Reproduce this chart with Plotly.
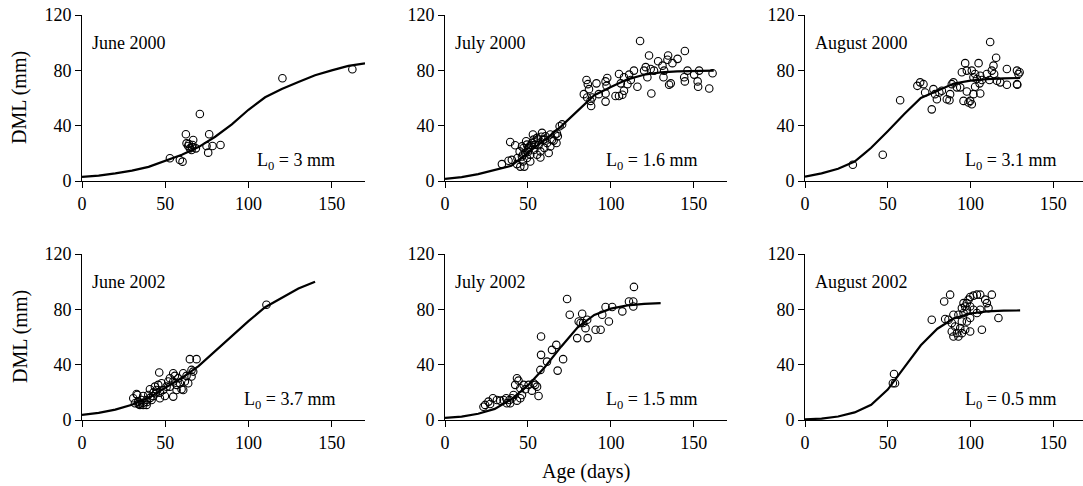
import plotly.graph_objects as go

# ---------------- data ----------------
panel_titles = ["June 2000", "July 2000", "August 2000", "June 2002", "July 2002", "August 2002"]
l0_labels = ["3 mm", "1.6 mm", "3.1 mm", "3.7 mm", "1.5 mm", "0.5 mm"]

# June 2000
obs1_x = [52.8, 58.8, 60.4, 62.4, 62.8, 63.8, 64.2, 64.8, 65.8, 66.0, 66.4, 66.8, 68.4, 70.8, 74.8, 75.8, 76.4, 78.4, 83.2, 120.4, 162.4]
obs1_y = [16.4, 15.2, 14.0, 33.8, 27.2, 25.3, 26.8, 23.6, 22.4, 24.5, 26.0, 29.6, 23.6, 48.4, 25.3, 20.5, 33.8, 25.3, 26.0, 74.3, 80.8]
fit1_x = [0, 10, 20, 30, 40, 50, 60, 70, 80, 90, 100, 110, 120, 130, 140, 150, 160, 170]
fit1_y = [3.0, 3.9, 5.5, 7.5, 10.2, 14.5, 19.0, 24.5, 32.0, 41.0, 51.5, 60.5, 66.5, 71.5, 76.5, 80.0, 83.2, 85.0]

# July 2000
obs2_x = [117.6, 144.6, 123.0, 134.5, 140.2, 137.1, 134.1, 128.5, 131.1, 121.0, 124.0, 126.0, 132.1, 146.2, 153.2,
          161.3, 150.2, 144.2, 144.6, 152.3, 136.1, 135.1, 152.6, 159.3, 131.7, 122.0, 120.0, 116.0, 124.4, 113.9,
          111.0, 104.9, 107.9, 110.0, 112.0, 106.0, 107.9, 102.8, 104.9, 106.9, 97.8, 96.8, 97.4, 96.8, 96.8,
          91.3, 85.3, 86.1, 86.8, 83.7, 85.7, 88.7, 88.1, 92.7, 87.7,
          39.3, 42.3, 34.3, 38.3, 40.3, 43.4, 45.4, 47.8, 46.4, 45.0, 47.4, 49.4, 48.4, 50.4, 51.4,
          52.4, 53.4, 53.0, 55.5, 56.4, 57.5, 57.5, 55.5, 58.5, 59.1, 60.5, 61.5, 62.5, 63.5, 64.5,
          66.5, 67.2, 68.0, 69.1, 70.6, 51.0, 53.8, 49.4, 51.4, 43.7, 47.0, 59.9, 63.5, 65.5, 54.5,
          48.9, 46.4, 67.5, 50.0, 52.0, 54.0, 56.0, 50.0, 47.0, 58.0, 60.0]
obs2_y = [101.2, 94.0, 90.7, 90.7, 88.3, 85.2, 87.6, 86.6, 83.4, 82.3, 81.0, 79.8, 79.8, 79.8, 79.8,
          77.9, 76.9, 75.0, 72.0, 72.0, 70.6, 69.6, 68.1, 66.9, 75.0, 75.0, 79.8, 68.1, 63.3, 79.8,
          76.9, 77.4, 75.0, 70.0, 73.0, 70.6, 65.2, 61.5, 61.5, 62.3, 74.5, 72.0, 68.8, 63.3, 57.4,
          70.6, 73.0, 70.0, 66.4, 62.8, 60.4, 60.4, 54.2, 62.8, 57.9,
          28.2, 25.8, 12.2, 14.6, 15.3, 12.2, 10.4, 10.4, 17.7, 21.4, 23.9, 26.3, 20.2, 22.6, 19.0,
          27.5, 29.9, 33.6, 31.2, 25.8, 21.4, 17.0, 19.0, 34.8, 29.9, 32.3, 27.5, 20.2, 33.6, 29.9,
          33.6, 27.5, 32.3, 39.6, 40.9, 25.0, 22.6, 16.6, 14.1, 16.6, 14.1, 23.9, 25.0, 29.2, 26.3,
          28.7, 25.0, 34.3, 24.0, 26.0, 28.0, 30.0, 21.0, 19.0, 32.0, 30.0]
fit2_x = [0, 10, 20, 30, 40, 50, 60, 70, 80, 90, 100, 110, 120, 130, 140, 150, 162]
fit2_y = [1.6, 2.8, 5.0, 8.0, 11.0, 20.5, 29.5, 39.5, 51.0, 62.0, 68.0, 73.5, 76.8, 78.5, 79.3, 79.6, 79.8]

# August 2000
obs3_x = [28.9, 47.0, 57.5, 67.9, 69.6, 71.6, 72.6, 76.6, 77.6, 78.6, 79.7, 81.2, 82.7, 85.7, 87.3,
          87.7, 88.7, 89.7, 91.8, 93.8, 94.8, 96.8, 97.8, 97.8, 95.8, 98.8, 100.8, 99.8, 101.8, 102.8,
          101.8, 100.8, 102.8, 103.9, 104.9, 105.9, 105.5, 105.9, 106.9, 111.9, 113.9, 112.9, 114.3, 115.5, 116.0,
          118.0, 122.0, 122.0, 128.1, 129.0, 128.1, 128.3, 129.7, 111.5, 109.9]
obs3_y = [11.7, 19.0, 58.4, 68.8, 71.3, 70.0, 64.0, 51.8, 66.4, 62.8, 59.1, 64.0, 65.2, 59.1, 58.4,
          62.8, 70.0, 71.3, 67.7, 67.7, 78.6, 85.2, 79.8, 64.7, 57.9, 56.7, 55.5, 57.9, 62.8, 68.1,
          75.0, 79.8, 77.4, 73.7, 85.2, 76.1, 70.6, 63.3, 73.0, 100.5, 83.4, 79.8, 77.4, 89.1, 72.5,
          71.3, 81.0, 69.6, 79.8, 77.4, 70.0, 69.6, 78.6, 73.0, 77.4]
fit3_x = [0, 10, 20, 30, 36, 40, 50, 60, 70, 80, 90, 100, 110, 120, 130]
fit3_y = [3.1, 5.5, 8.8, 14.0, 20.0, 24.0, 36.0, 48.5, 60.0, 65.5, 70.5, 72.5, 73.7, 74.2, 74.5]

# June 2002
obs4_x = [110.8, 64.8, 68.8, 46.4, 54.8, 55.8, 52.8, 60.8, 62.8, 65.8, 66.8, 63.8, 58.8, 59.8, 56.8,
          54.8, 50.8, 48.8, 46.8, 49.8, 44.8, 42.8, 40.8, 41.8, 38.8, 36.8, 33.2, 30.8, 31.8, 34.8,
          36.8, 38.8, 33.8, 35.8, 39.8, 47.8, 52.8, 57.8, 51.8, 60.8, 61.8, 56.8, 45.8, 43.8, 65.8,
          54.8, 46.8, 44.4, 32.8, 35.0, 37.0, 34.0, 39.0, 41.0, 43.0]
obs4_y = [83.3, 44.0, 44.0, 34.3, 33.8, 31.9, 30.2, 33.8, 31.9, 31.4, 35.0, 26.6, 26.6, 22.2, 21.7,
          16.9, 24.1, 21.7, 19.8, 17.4, 21.7, 17.4, 22.2, 14.5, 14.5, 17.4, 18.1, 15.7, 12.1, 10.9,
          10.9, 10.9, 13.3, 14.5, 18.1, 26.6, 24.1, 30.2, 27.8, 21.7, 27.8, 25.4, 25.4, 24.1, 36.2,
          27.8, 15.7, 19.3, 18.8, 12.0, 12.5, 11.5, 13.0, 16.0, 20.0]
fit4_x = [0, 10, 20, 30, 40, 50, 60, 70, 80, 90, 100, 110, 120, 130, 140]
fit4_y = [3.7, 5.2, 7.5, 11.0, 16.0, 23.0, 30.5, 39.0, 50.0, 61.0, 71.5, 81.5, 88.5, 95.0, 100.0]

# July 2002
obs5_x = [73.6, 113.9, 110.9, 113.5, 113.5, 106.9, 100.8, 96.8, 94.8, 98.8, 93.8, 90.8, 86.0, 79.7, 75.2,
          82.7, 80.6, 83.3, 85.7, 84.7, 81.7, 57.9, 57.9, 64.5, 67.1, 61.5, 71.2, 67.9, 57.5, 43.4,
          44.3, 42.3, 45.4, 47.4, 50.4, 53.4, 54.4, 52.4, 56.4, 55.5, 46.4, 45.4, 41.3, 40.3, 43.4,
          38.9, 36.9, 35.3, 33.3, 31.3, 28.9, 26.2, 24.2, 23.2, 27.2, 37.3, 39.3, 48.4]
obs5_y = [87.5, 96.2, 85.7, 85.7, 82.1, 78.5, 81.7, 81.7, 76.1, 71.2, 65.2, 65.2, 59.2, 59.2, 76.1,
          76.8, 71.2, 70.1, 72.5, 66.4, 70.1, 60.4, 47.1, 50.7, 54.3, 42.2, 44.0, 35.7, 36.2, 30.2,
          28.5, 25.4, 23.0, 25.4, 25.4, 26.6, 25.4, 21.2, 17.4, 24.1, 18.1, 15.7, 18.1, 15.7, 14.0,
          14.5, 15.7, 14.5, 14.0, 14.5, 15.7, 13.3, 10.9, 9.6, 11.6, 12.1, 12.1, 22.2]
fit5_x = [0, 10, 20, 30, 40, 50, 60, 70, 80, 90, 100, 110, 120, 130]
fit5_y = [1.5, 2.5, 4.5, 8.0, 15.0, 25.0, 38.0, 53.0, 67.0, 76.0, 80.5, 82.8, 84.0, 84.5]

# August 2002
obs6_x = [53.1, 54.4, 53.8, 76.6, 84.1, 87.7, 84.7, 86.7, 89.7, 88.7, 90.7, 88.7, 91.8, 89.7, 92.7,
          94.8, 93.8, 96.8, 99.8, 94.8, 97.8, 99.8, 92.7, 95.8, 97.8, 96.8, 97.8, 98.8, 99.8, 101.8,
          103.9, 99.8, 101.8, 103.9, 105.9, 108.9, 109.9, 112.9, 110.9, 116.9, 106.9, 105.9, 95.8, 94.8]
obs6_y = [26.6, 26.6, 33.3, 72.5, 85.7, 90.6, 73.0, 72.5, 76.1, 70.1, 67.6, 64.0, 62.8, 60.4, 60.4,
          62.8, 66.4, 65.2, 64.0, 71.2, 71.2, 73.7, 76.1, 77.3, 79.7, 82.1, 84.5, 87.0, 88.9, 89.9,
          90.6, 82.1, 79.7, 77.3, 79.7, 87.0, 84.5, 90.6, 80.9, 73.7, 65.2, 90.6, 84.5, 80.9]
fit6_x = [0, 10, 20, 30, 40, 50, 60, 70, 80, 90, 100, 110, 120, 130]
fit6_y = [0.5, 1.0, 2.5, 5.5, 11.0, 22.0, 38.0, 54.0, 66.0, 73.5, 77.0, 78.5, 79.0, 79.2]

x_ticks = [0, 50, 100, 150]
y_ticks = [0, 40, 80, 120]
y_title = "DML (mm)"
x_title = "Age (days)"

# ---------------- layout ----------------
W, H = 1083, 486
FONT = "Liberation Serif"
obs_x = [obs1_x, obs2_x, obs3_x, obs4_x, obs5_x, obs6_x]
obs_y = [obs1_y, obs2_y, obs3_y, obs4_y, obs5_y, obs6_y]
fit_x = [fit1_x, fit2_x, fit3_x, fit4_x, fit5_x, fit6_x]
fit_y = [fit1_y, fit2_y, fit3_y, fit4_y, fit5_y, fit6_y]

col_px = [(82, 365, 170), (445, 727, 170), (805, 1083, 168)]
row_px = [(15, 181), (254, 420)]

fig = go.Figure()
layout = dict(width=W, height=H, margin=dict(l=0, r=0, t=0, b=0, autoexpand=False),
              paper_bgcolor="white", plot_bgcolor="white", showlegend=False,
              font=dict(family=FONT, color="black"))
annotations = []
for i in range(6):
    r, c = divmod(i, 3)
    n = i + 1
    xa = "x" if n == 1 else f"x{n}"
    ya = "y" if n == 1 else f"y{n}"
    x0, x1, xr = col_px[c]
    t0, t1 = row_px[r]
    axcommon = dict(showline=True, linecolor="black", linewidth=1, ticks="outside",
                    ticklen=6, tickwidth=1, tickcolor="black", showgrid=False, zeroline=False,
                    automargin=False,
                    tickfont=dict(family=FONT, size=18, color="black"))
    layout["xaxis" if n == 1 else f"xaxis{n}"] = dict(
        domain=[x0 / W, x1 / W], range=[0, xr], anchor=ya, tickvals=x_ticks, **axcommon)
    layout["yaxis" if n == 1 else f"yaxis{n}"] = dict(
        domain=[(H - t1) / H, (H - t0) / H], range=[0, 120], anchor=xa, tickvals=y_ticks, **axcommon)

    fig.add_trace(go.Scatter(x=fit_x[i], y=fit_y[i], mode="lines", xaxis=xa, yaxis=ya,
                             line=dict(color="black", width=2.2), cliponaxis=False))
    fig.add_trace(go.Scatter(x=obs_x[i], y=obs_y[i], mode="markers", xaxis=xa, yaxis=ya,
                             marker=dict(symbol="circle-open", size=7.5, color="black",
                                         line=dict(width=1.1, color="black")), cliponaxis=False))
    annotations.append(dict(x=5, y=100, xref=xa, yref=ya, text=panel_titles[i], showarrow=False,
                            xanchor="left", yanchor="middle", font=dict(family=FONT, size=18, color="black")))
    annotations.append(dict(x=153, y=14, xref=xa, yref=ya, text="L<sub>0</sub> = " + l0_labels[i],
                            showarrow=False, xanchor="right", yanchor="middle",
                            font=dict(family=FONT, size=18, color="black")))

for t0, t1 in row_px:
    annotations.append(dict(x=20 / W, y=(H - (t0 + t1) / 2) / H, xref="paper", yref="paper", text=y_title,
                            textangle=-90, showarrow=False, xanchor="center", yanchor="middle",
                            font=dict(family=FONT, size=20, color="black")))
annotations.append(dict(x=586 / W, y=(H - 471) / H, xref="paper", yref="paper", text=x_title,
                        showarrow=False, xanchor="center", yanchor="middle",
                        font=dict(family=FONT, size=20, color="black")))
layout["annotations"] = annotations
fig.update_layout(**layout)
fig.write_html("out.html", config={"displayModeBar": False},
               post_script="document.body.style.margin='0';document.body.style.overflow='hidden';")
